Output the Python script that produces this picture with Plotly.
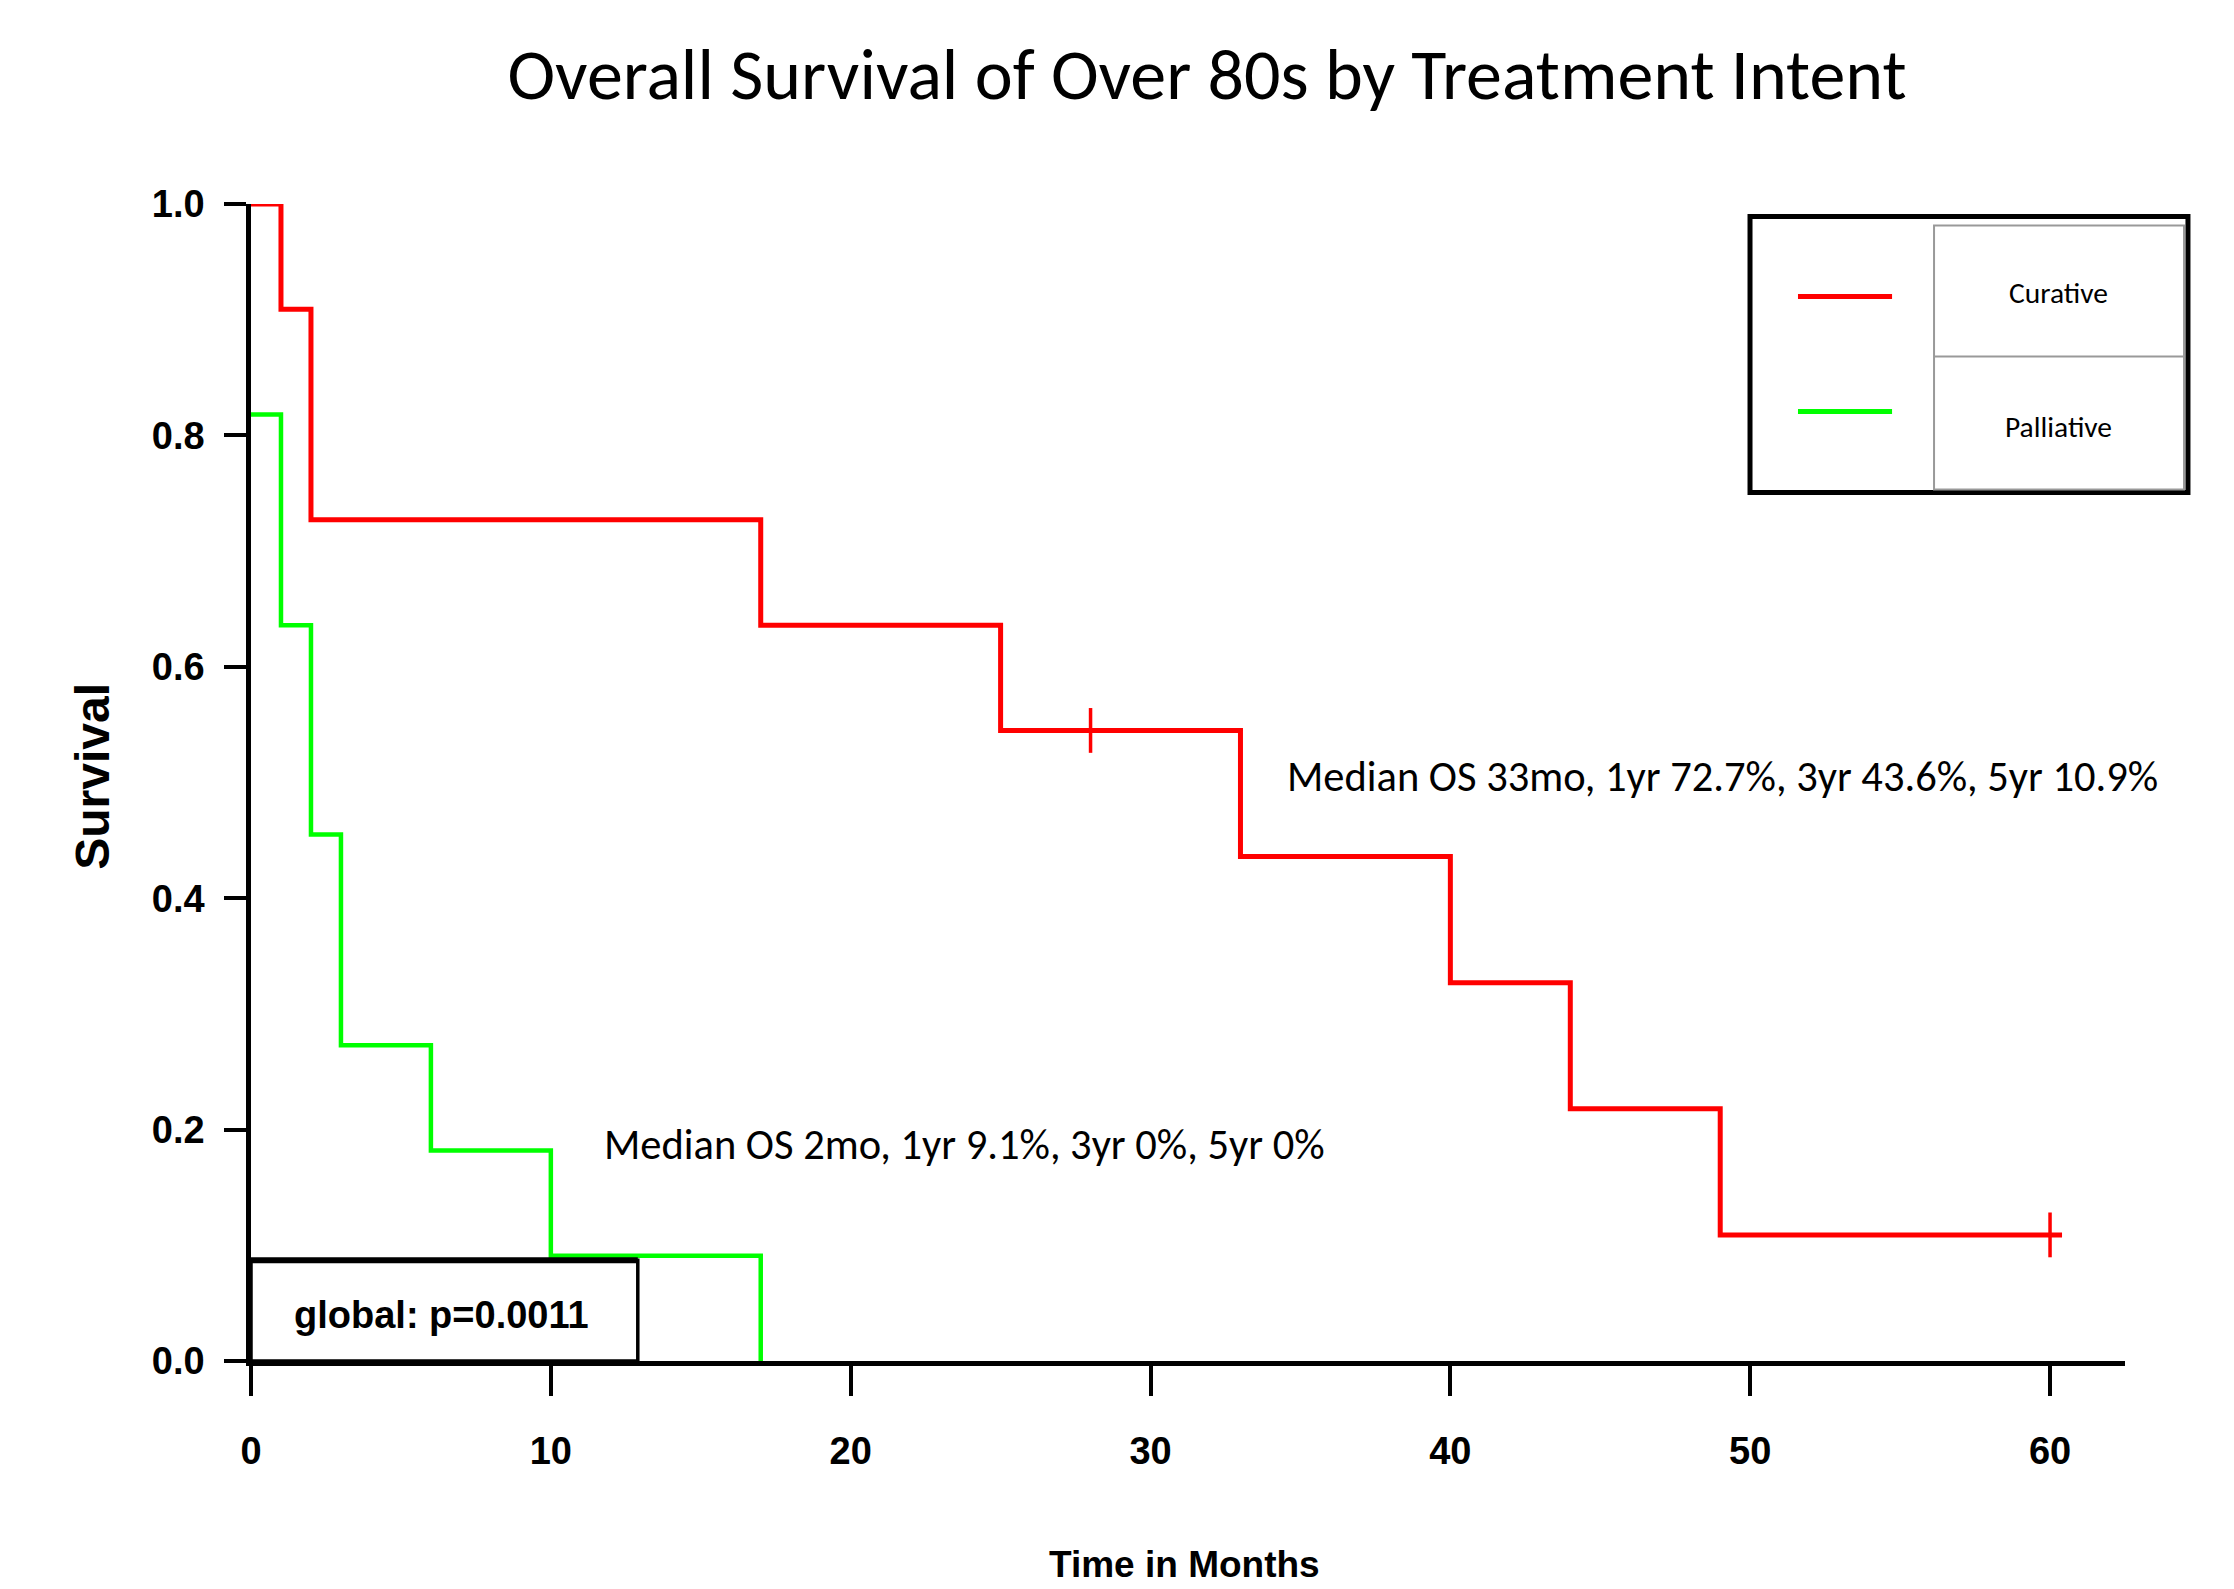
import plotly.graph_objects as go

# ---------------- data ----------------
curative_time = [0, 1, 2, 17, 25, 33, 40, 44, 49, 60.4]
curative_surv = [1.0, 0.909, 0.727, 0.636, 0.545, 0.436, 0.327, 0.218, 0.109, 0.109]
curative_censor_time = [28, 60]
curative_censor_surv = [0.545, 0.109]

palliative_time = [0, 1, 2, 3, 6, 10, 17]
palliative_surv = [0.818, 0.636, 0.455, 0.273, 0.182, 0.091, 0.0]

x_ticks = [0, 10, 20, 30, 40, 50, 60]
y_ticks = [0.0, 0.2, 0.4, 0.6, 0.8, 1.0]
y_tick_labels = ["0.0", "0.2", "0.4", "0.6", "0.8", "1.0"]

title_text = "Overall Survival of Over 80s by Treatment Intent"
curative_note = "Median OS 33mo, 1yr 72.7%, 3yr 43.6%, 5yr 10.9%"
palliative_note = "Median OS 2mo, 1yr 9.1%, 3yr 0%, 5yr 0%"
pvalue_text = "global: p=0.0011"
pvalue_box_x = 12.9
pvalue_box_y = 0.087

RED = "#FF0000"
GREEN = "#00FF00"
SANS = "Liberation Sans, Arial, sans-serif"
LIGHT = "Carlito, Calibri, Liberation Sans, Arial, sans-serif"

fig = go.Figure()

fig.add_trace(go.Scatter(
    x=curative_time, y=curative_surv, mode="lines",
    line=dict(color=RED, width=5, shape="hv"), name="Curative", showlegend=False))
fig.add_trace(go.Scatter(
    x=curative_censor_time, y=curative_censor_surv, mode="markers",
    marker=dict(symbol="line-ns", size=32, line=dict(color=RED, width=3.5)),
    showlegend=False))
fig.add_trace(go.Scatter(
    x=palliative_time, y=palliative_surv, mode="lines",
    line=dict(color=GREEN, width=4.5, shape="hv"), name="Palliative", showlegend=False))

# p-value box
fig.add_shape(type="rect", xref="x", yref="y", x0=0, x1=pvalue_box_x, y0=0, y1=pvalue_box_y,
              line=dict(color="black", width=3.5), layer="above")
fig.add_shape(type="line", xref="x", yref="y", x0=0, x1=pvalue_box_x, y0=pvalue_box_y, y1=pvalue_box_y,
              line=dict(color="black", width=6), layer="above")
fig.add_annotation(x=pvalue_box_x / 2 - 0.1, y=pvalue_box_y * 0.46, xref="x", yref="y",
                   xanchor="center", yanchor="middle",
                   text=pvalue_text, showarrow=False,
                   font=dict(family=SANS, size=38, color="black", weight="bold"))

# curve notes
fig.add_annotation(x=34.5, y=0.505, xref="x", yref="y", xanchor="left", yanchor="middle",
                   text=curative_note, showarrow=False,
                   font=dict(family=LIGHT, size=42.5, color="black"))
fig.add_annotation(x=11.7, y=0.187, xref="x", yref="y", xanchor="left", yanchor="middle",
                   text=palliative_note, showarrow=False,
                   font=dict(family=LIGHT, size=42.5, color="black"))

# legend box (table style)
fig.add_shape(type="rect", xref="paper", yref="paper", x0=0.7999, x1=1.0336, y0=0.7507, y1=0.9893,
              line=dict(color="black", width=5), fillcolor="white", layer="above")
fig.add_shape(type="rect", xref="paper", yref="paper", x0=0.8981, x1=1.0315, y0=0.7533, y1=0.9815,
              line=dict(color="#999999", width=2), layer="above")
fig.add_shape(type="line", xref="paper", yref="paper", x0=0.8981, x1=1.0315, y0=0.8683, y1=0.8683,
              line=dict(color="#999999", width=2), layer="above")
fig.add_shape(type="line", xref="paper", yref="paper", x0=0.8255, x1=0.8757, y0=0.9201, y1=0.9201,
              line=dict(color=RED, width=5), layer="above")
fig.add_shape(type="line", xref="paper", yref="paper", x0=0.8255, x1=0.8757, y0=0.8207, y1=0.8207,
              line=dict(color=GREEN, width=5), layer="above")
fig.add_annotation(x=0.9643, y=0.9227, xref="paper", yref="paper", xanchor="center", yanchor="middle",
                   text="Curative", showarrow=False,
                   font=dict(family=LIGHT, size=29.5, color="black"))
fig.add_annotation(x=0.9643, y=0.8069, xref="paper", yref="paper", xanchor="center", yanchor="middle",
                   text="Palliative", showarrow=False,
                   font=dict(family=LIGHT, size=29.5, color="black"))

# axis titles
fig.add_annotation(x=-0.0843, y=0.505, xref="paper", yref="paper", xanchor="center", yanchor="middle",
                   text="Survival", textangle=-90, showarrow=False,
                   font=dict(family=SANS, size=48, color="black", weight="bold"))
fig.add_annotation(x=0.498, y=-0.1758, xref="paper", yref="paper", xanchor="center", yanchor="middle",
                   text="Time in Months", showarrow=False,
                   font=dict(family=SANS, size=37, color="black", weight="bold"))

fig.update_layout(
    width=2234, height=1589,
    margin=dict(l=243, r=117, t=196, b=236),
    paper_bgcolor="white", plot_bgcolor="white",
    title=dict(text=title_text, x=0.5367, xanchor="center", y=1 - 66 / 1589, yanchor="middle",
               yref="container", font=dict(family=LIGHT, size=72, color="black")),
    showlegend=False,
)
fig.update_xaxes(
    range=[0, 62.5], tickvals=x_ticks, ticktext=[str(v) for v in x_ticks],
    showgrid=False, zeroline=False, showline=True, linecolor="black", linewidth=4.5,
    ticks="outside", ticklen=30, tickwidth=4, tickcolor="black", ticklabelstandoff=23,
    tickfont=dict(family=SANS, size=38, color="black", weight="bold"),
)
fig.update_yaxes(
    range=[0, 1], tickvals=y_ticks, ticktext=y_tick_labels,
    showgrid=False, zeroline=False, showline=True, linecolor="black", linewidth=4.5,
    ticks="outside", ticklen=22, tickwidth=4, tickcolor="black", ticklabelstandoff=12,
    tickfont=dict(family=SANS, size=38, color="black", weight="bold"),
)

fig.write_html("out.html")
